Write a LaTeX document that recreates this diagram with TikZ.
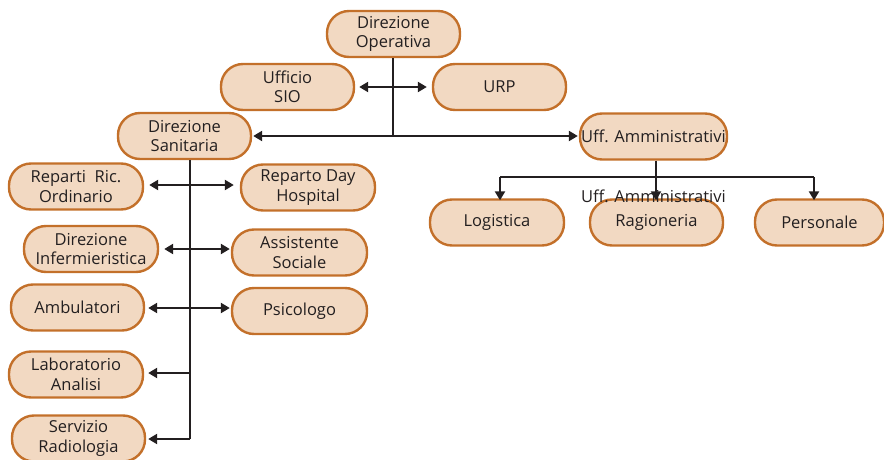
\documentclass[tikz,border=0pt]{standalone}
\usepackage{fontspec}
\setmainfont{Open Sans}
\usetikzlibrary{arrows.meta}
\definecolor{boxfill}{HTML}{F2D9C2}
\definecolor{boxline}{HTML}{C3702A}
\definecolor{lineblk}{HTML}{231F20}
\tikzset{
  txt/.style={font=\fontsize{16.5}{19.5}\selectfont, text=lineblk},
  box/.style={draw=boxline, fill=boxfill, line width=2.4pt, rounded corners=22pt,
    minimum height=46pt, inner sep=0pt, align=center, txt},
  conn/.style={draw=lineblk, line width=2.6pt},
  tip/.style={-{Triangle[width=10pt,length=9pt]}},
  tips/.style={{Triangle[width=10pt,length=9pt]}-{Triangle[width=10pt,length=9pt]}}
}
\begin{document}
\begin{tikzpicture}[x=1pt,y=-1pt]
\useasboundingbox (0,0) rectangle (884,460);
% top level
\node[box, minimum width=133pt] (dop) at (393.5,34) {Direzione\\Operativa};
\node[box, minimum width=133pt] (sio) at (287.5,87) {Ufficio\\SIO};
\node[box, minimum width=133pt] (urp) at (499.5,87) {URP};
\node[box, minimum width=133pt] (dsan) at (184.5,136) {Direzione\\Sanitaria};
\node[box, minimum width=147pt] (uamm) at (653.5,136.5) {Uff. Amministrativi};
% admin children
\node[box, minimum width=134pt] (log) at (497,222.5) {Logistica};
\node[box, minimum width=133pt] (rag) at (656.5,222.5) {Ragioneria};
\node[box, minimum width=129pt] (per) at (819.5,222.5) {Personale};
\node[txt, inner sep=0pt] (ovl) at (653.5,196) {Uff. Amministrativi};
% left side
\node[box, minimum width=134pt] (rep) at (76,186.5) {Reparti\ \ Ric.\\Ordinario};
\node[box, minimum width=134pt] (day) at (308,187.5) {Reparto Day\\Hospital};
\node[box, minimum width=134pt] (inf) at (91,249) {Direzione\\Infermieristica};
\node[box, minimum width=135pt] (ass) at (299.5,252.5) {Assistente\\Sociale};
\node[box, minimum width=133pt] (amb) at (77.5,307.5) {Ambulatori};
\node[box, minimum width=135pt] (psi) at (299.5,311) {Psicologo};
\node[box, minimum width=134pt] (lab) at (76,374.5) {Laboratorio\\Analisi};
\node[box, minimum width=133pt] (rad) at (78.5,438.5) {Servizio\\Radiologia};
% coordinates
\coordinate (j1) at (393,136);
\coordinate (j2) at (656,177);
\coordinate (t0) at (190,159);
\coordinate (t1) at (190,439);
% top connectors
\draw[conn] (dop.south -| j1) -- (j1);
\draw[conn, tips] ([xshift=4pt]sio.east) -- ([xshift=-5pt]urp.west);
\draw[conn, tip] (j1) -- ([xshift=1pt]j1 -| dsan.east);
\draw[conn, tip] (j1) -- ([xshift=-1pt]j1 -| uamm.west);
% admin connectors
\draw[conn] (uamm.south -| j2) -- (j2);
\draw[conn] (500,177) -- (814,177);
\draw[conn, tip] (500,177) -- ([yshift=-2pt]log.north -| 500,0);
\draw[conn, tip] (j2) -- ([yshift=-2pt]rag.north -| j2);
\draw[conn, tip] (814,177) -- ([yshift=-2pt]per.north -| 814,0);
% left trunk
\draw[conn] (dsan.south -| t0) -- (t1);
\draw[conn, tips] ([xshift=5pt]rep.east |- 0,185) -- ([xshift=-6pt]day.west |- 0,185);
\draw[conn, tips] ([xshift=5pt]inf.east |- 0,249) -- ([xshift=-1pt]ass.west |- 0,249);
\draw[conn, tips] ([xshift=3pt]amb.east |- 0,308) -- ([xshift=-1pt]psi.west |- 0,308);
\draw[conn, tip] (190,373) -- ([xshift=4pt]lab.east |- 0,373);
\draw[conn, tip] (t1) -- ([xshift=2pt]rad.east |- t1);
\end{tikzpicture}
\end{document}
